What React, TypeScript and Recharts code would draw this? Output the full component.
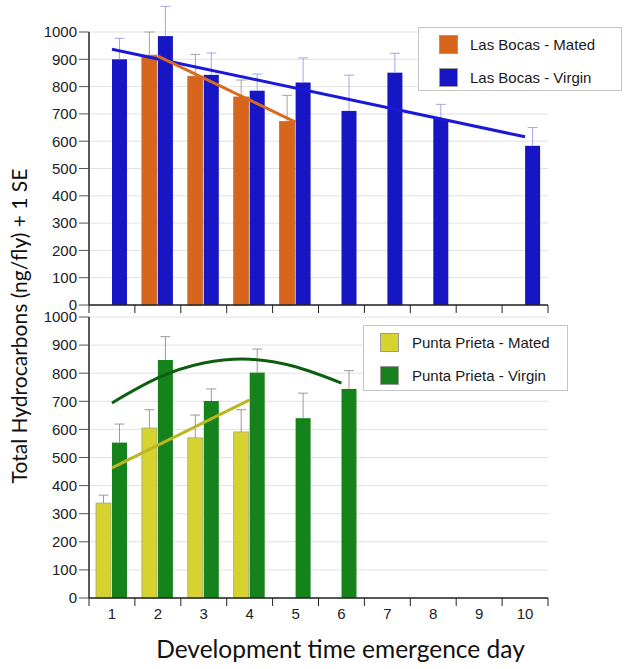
import React from "react";
import {
  ComposedChart,
  Bar,
  Line,
  XAxis,
  YAxis,
  CartesianGrid,
  Legend,
} from "recharts";

const DAYS = ["1", "2", "3", "4", "5", "6", "7", "8", "9", "10"];
const Y_TICKS = [0, 100, 200, 300, 400, 500, 600, 700, 800, 900, 1000];

// Las Bocas (top panel)
const LB_MATED = [null, 915, 838, 762, 672, null, null, null, null, null];
const LB_MATED_SE = [null, 85, 80, 62, 96, null, null, null, null, null];
const LB_VIRGIN = [900, 985, 843, 785, 815, 711, 851, 681, null, 583];
const LB_VIRGIN_SE = [77, 109, 80, 61, 90, 131, 71, 54, null, 67];
const LB_MATED_FIT = [null, 912, null, null, 670, null, null, null, null, null];
const LB_VIRGIN_FIT = [937, null, null, null, null, null, null, null, null, 616];

// Punta Prieta (bottom panel)
const PP_MATED = [338, 605, 570, 591, null, null, null, null, null, null];
const PP_MATED_SE = [28, 65, 81, 79, null, null, null, null, null, null];
const PP_VIRGIN = [553, 847, 701, 802, 640, 744, null, null, null, null];
const PP_VIRGIN_SE = [66, 83, 43, 84, 89, 65, null, null, null, null];
const PP_MATED_FIT = [463, null, null, 705, null, null, null, null, null, null];
const PP_VIRGIN_FIT = [694, 783, 836, 850, 823, 765, null, null, null, null];

const topData = DAYS.map((day, i) => ({
  day,
  mated: LB_MATED[i],
  matedSe: LB_MATED_SE[i],
  virgin: LB_VIRGIN[i],
  virginSe: LB_VIRGIN_SE[i],
  matedFit: LB_MATED_FIT[i],
  virginFit: LB_VIRGIN_FIT[i],
}));

const bottomData = DAYS.map((day, i) => ({
  day,
  mated: PP_MATED[i],
  matedSe: PP_MATED_SE[i],
  virgin: PP_VIRGIN[i],
  virginSe: PP_VIRGIN_SE[i],
  matedFit: PP_MATED_FIT[i],
  virginFit: PP_VIRGIN_FIT[i],
}));

const W = 624;
const PLOT_LEFT = 89;
const PLOT_RIGHT = 76;
const HALF_BAND = (W - PLOT_LEFT - PLOT_RIGHT) / DAYS.length / 2;
const AXIS = "#222";
const TICK_FONT = "'Liberation Sans', Arial, Helvetica, sans-serif";
const TITLE_FONT = "Lato, 'Open Sans', sans-serif";

// bar with a "+1 SE" whisker on top, scaled from the bar's own height
const seBar =
  (valueKey: string, seKey: string, whisker: string, stroke?: string) =>
  (p: any) => {
    const { x, y, width, height, fill, payload } = p;
    const v = payload[valueKey];
    const se = payload[seKey];
    if (v == null || !height) return <g />;
    const top = y - (se * height) / v;
    const cx = x + width / 2;
    return (
      <g>
        <rect
          x={x}
          y={y}
          width={width}
          height={height}
          fill={fill}
          stroke={stroke}
          strokeWidth={stroke ? 0.8 : 0}
        />
        <line x1={cx} y1={y} x2={cx} y2={top} stroke={whisker} strokeWidth={1} />
        <line x1={cx - 5} y1={top} x2={cx + 5} y2={top} stroke={whisker} strokeWidth={1} />
      </g>
    );
  };

// ticks sit on the category boundaries, labels in the middle
const BoundaryTick = (p: any) => {
  const { x, y, index, showLabel } = p;
  const axisY = y - 10;
  return (
    <g>
      <line x1={x - HALF_BAND} y1={axisY} x2={x - HALF_BAND} y2={axisY + 8} stroke={AXIS} />
      {index === DAYS.length - 1 && (
        <line x1={x + HALF_BAND} y1={axisY} x2={x + HALF_BAND} y2={axisY + 8} stroke={AXIS} />
      )}
      {showLabel && (
        <text
          x={x}
          y={y}
          dy="0.71em"
          textAnchor="middle"
          fontSize={15}
          fontFamily={TICK_FONT}
          fill={AXIS}
        >
          {p.payload.value}
        </text>
      )}
    </g>
  );
};

const LegendBox = ({
  items,
  padLeft,
  textLeft,
  rowTop,
}: {
  items: { label: string; color: string }[];
  padLeft: number;
  textLeft: number;
  rowTop: number;
}) => (
  <div
    style={{
      width: "100%",
      height: "100%",
      boxSizing: "border-box",
      background: "#fff",
      border: "1px solid #c4c4c4",
      position: "relative",
      fontFamily: TICK_FONT,
      fontSize: 15,
      color: "#1a1a1a",
    }}
  >
    {items.map((it, i) => (
      <div
        key={it.label}
        style={{ position: "absolute", left: 0, top: rowTop + i * 33, height: 20, width: "100%" }}
      >
        <span
          style={{
            position: "absolute",
            left: padLeft,
            top: 0,
            width: 19,
            height: 19,
            background: it.color,
            border: "1px solid #9a9a9a",
            boxSizing: "border-box",
          }}
        />
        <span style={{ position: "absolute", left: textLeft, top: 1, lineHeight: "18px" }}>
          {it.label}
        </span>
      </div>
    ))}
  </div>
);

const yAxisProps = {
  domain: [0, 1000] as [number, number],
  ticks: Y_TICKS,
  interval: 0 as const,
  width: PLOT_LEFT,
  tickSize: 10,
  tickMargin: 2,
  axisLine: { stroke: AXIS, strokeWidth: 1.5 },
  tickLine: { stroke: "#555" },
  tick: { fontSize: 15, fontFamily: TICK_FONT, fill: AXIS },
};

export default function App() {
  return (
    <div style={{ position: "absolute", left: 0, top: 0, width: W, height: 669, background: "#fff" }}>
      <div style={{ position: "absolute", left: 0, top: 0 }}>
        <ComposedChart
          width={W}
          height={315}
          data={topData}
          margin={{ top: 32, right: PLOT_RIGHT, bottom: 0, left: 0 }}
          barGap={1}
        >
          <CartesianGrid vertical={false} stroke="#e2e2e2" />
          <XAxis
            dataKey="day"
            height={10}
            interval={0}
            tickSize={8}
            tickMargin={2}
            tickLine={false}
            axisLine={{ stroke: AXIS, strokeWidth: 1.5 }}
            tick={(p: any) => <BoundaryTick {...p} showLabel={false} />}
          />
          <XAxis
            xAxisId="frame"
            dataKey="day"
            orientation="top"
            height={0}
            tick={false}
            tickLine={false}
            axisLine={{ stroke: AXIS, strokeWidth: 1.5 }}
          />
          <YAxis {...yAxisProps} />
          <YAxis
            yAxisId="frame"
            orientation="right"
            width={0}
            domain={[0, 1000]}
            tick={false}
            tickLine={false}
            axisLine={{ stroke: AXIS, strokeWidth: 1.5 }}
          />
          <Bar
            dataKey="mated"
            fill="#d7661c"
            barSize={15}
            isAnimationActive={false}
            shape={seBar("mated", "matedSe", "#a3a3a3", "#b9703a")}
          />
          <Bar
            dataKey="virgin"
            fill="#1616c4"
            barSize={15}
            isAnimationActive={false}
            shape={seBar("virgin", "virginSe", "#a5a5e8")}
          />
          <Line
            dataKey="virginFit"
            stroke="#1a1ad6"
            strokeWidth={3}
            dot={false}
            connectNulls
            isAnimationActive={false}
          />
          <Line
            dataKey="matedFit"
            stroke="#d96a1e"
            strokeWidth={3}
            dot={false}
            connectNulls
            isAnimationActive={false}
          />
          <Legend
            layout="horizontal"
            verticalAlign="middle"
            align="center"
            wrapperStyle={{ left: 418, top: 27, width: 204, height: 64 }}
            content={() => (
              <LegendBox
                padLeft={20}
                textLeft={51}
                rowTop={7}
                items={[
                  { label: "Las Bocas - Mated", color: "#d7661c" },
                  { label: "Las Bocas - Virgin", color: "#1616c4" },
                ]}
              />
            )}
          />
        </ComposedChart>
      </div>

      <div style={{ position: "absolute", left: 0, top: 300 }}>
        <ComposedChart
          width={W}
          height={369}
          data={bottomData}
          margin={{ top: 17, right: PLOT_RIGHT, bottom: 0, left: 0 }}
          barGap={1}
        >
          <CartesianGrid vertical={false} stroke="#e2e2e2" />
          <XAxis
            dataKey="day"
            height={71}
            interval={0}
            tickSize={8}
            tickMargin={2}
            tickLine={false}
            axisLine={{ stroke: AXIS, strokeWidth: 1.5 }}
            tick={(p: any) => <BoundaryTick {...p} showLabel />}
            label={{
              value: "Development time emergence day",
              position: "insideBottom",
              offset: 11,
              dx: 22,
              style: { fontSize: 24.5, fontFamily: TITLE_FONT, fill: "#111", textAnchor: "middle" },
            }}
          />
          <XAxis
            xAxisId="frame"
            dataKey="day"
            orientation="top"
            height={0}
            tick={false}
            tickLine={false}
            axisLine={{ stroke: AXIS, strokeWidth: 1.5 }}
          />
          <YAxis {...yAxisProps} />
          <YAxis
            yAxisId="frame"
            orientation="right"
            width={0}
            domain={[0, 1000]}
            tick={false}
            tickLine={false}
            axisLine={{ stroke: AXIS, strokeWidth: 1.5 }}
          />
          <Bar
            dataKey="mated"
            fill="#d6d22e"
            barSize={15}
            isAnimationActive={false}
            shape={seBar("mated", "matedSe", "#9a9a9a", "#a8a68a")}
          />
          <Bar
            dataKey="virgin"
            fill="#16821b"
            barSize={15}
            isAnimationActive={false}
            shape={seBar("virgin", "virginSe", "#9a9a9a")}
          />
          <Line
            dataKey="virginFit"
            type="natural"
            stroke="#0e5e12"
            strokeWidth={3}
            dot={false}
            isAnimationActive={false}
          />
          <Line
            dataKey="matedFit"
            stroke="#bab624"
            strokeWidth={3}
            dot={false}
            connectNulls
            isAnimationActive={false}
          />
          <Legend
            layout="horizontal"
            verticalAlign="middle"
            align="center"
            wrapperStyle={{ left: 363, top: 25, width: 205, height: 66 }}
            content={() => (
              <LegendBox
                padLeft={16}
                textLeft={48}
                rowTop={7}
                items={[
                  { label: "Punta Prieta - Mated", color: "#d6d22e" },
                  { label: "Punta Prieta - Virgin", color: "#16821b" },
                ]}
              />
            )}
          />
        </ComposedChart>
      </div>

      <div
        style={{
          position: "absolute",
          left: 18,
          top: 326,
          width: 400,
          textAlign: "center",
          transform: "translate(-50%, -50%) rotate(-90deg)",
          fontFamily: TITLE_FONT,
          fontSize: 21,
          color: "#111",
          whiteSpace: "nowrap",
        }}
      >
        Total Hydrocarbons (ng/fly) + 1 SE
      </div>
    </div>
  );
}
